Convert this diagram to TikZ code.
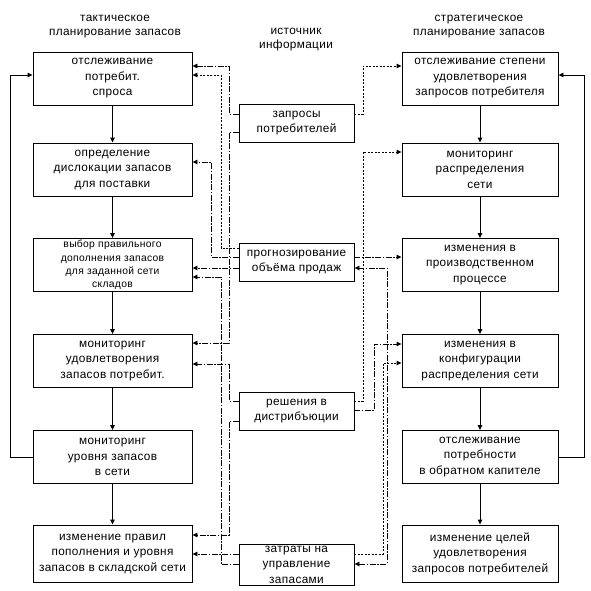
\documentclass[tikz,border=0pt]{standalone}
\usepackage{fontspec}
\setmainfont[LetterSpace=3]{Liberation Sans}
\usetikzlibrary{arrows.meta}
\begin{document}
\begin{tikzpicture}[x=1pt,y=-1pt,
  box/.style={draw, line width=0.9pt, align=center, inner sep=0pt, font=\fontsize{11.8}{15.5}\selectfont},
  lbox/.style={box, minimum width=159pt, minimum height=53pt},
  rbox/.style={box, minimum width=156pt, minimum height=53pt},
  mbox/.style={box, minimum width=115pt, minimum height=38pt},
  ttl/.style={align=center, inner sep=0pt, font=\fontsize{11.8}{14}\selectfont},
  flow/.style={line width=0.9pt, -{Triangle[length=5pt,width=4.5pt]}},
  dashlink/.style={flow, dash pattern=on 6pt off 1.5pt on 1.5pt off 1.5pt},
  dotlink/.style={flow, dash pattern=on 2pt off 1.5pt}]
\useasboundingbox (0,0) rectangle (591,590);
% titles
\node[ttl] (t1) at (115,27) {тактическое\\планирование запасов};
\node[ttl] (t2) at (296,40) {источник\\информации};
\node[ttl] (t3) at (479,27) {стратегическое\\планирование запасов};
% left column
\node[lbox] (l1) at (112.5,78.5) {отслеживание\\потребит.\\спроса};
\node[lbox] (l2) at (112.5,169.5) {определение\\дислокации запасов\\для поставки};
\node[lbox, font=\fontsize{10.3}{13.3}\selectfont] (l3) at (112.5,265) {выбор правильного\\дополнения запасов\\для заданной сети\\складов};
\node[lbox] (l4) at (112.5,361) {мониторинг\\удовлетворения\\запасов потребит.};
\node[lbox] (l5) at (112.5,457) {мониторинг\\уровня запасов\\в сети};
\node[lbox, minimum height=57pt] (l6) at (112.5,553.5) {изменение правил\\пополнения и уровня\\запасов в складской сети};
% right column
\node[rbox] (r1) at (480,78.5) {отслеживание степени\\удовлетворения\\запросов потребителя};
\node[rbox] (r2) at (480,169.5) {мониторинг\\распределения\\сети};
\node[rbox] (r3) at (480,265) {изменения в\\производственном\\процессе};
\node[rbox] (r4) at (480,361) {изменения в\\конфигурации\\распределения сети};
\node[rbox] (r5) at (480,457) {отслеживание\\потребности\\в обратном капителе};
\node[rbox, minimum height=57pt] (r6) at (480,553.5) {изменение целей\\удовлетворения\\запросов потребителей};
% middle
\node[mbox] (m1) at (296.5,123) {запросы\\потребителей};
\node[mbox] (m2) at (296.5,262) {прогнозирование\\объёма продаж};
\node[mbox] (m3) at (296.5,411) {решения в\\дистрибъюции};
\node[mbox, minimum height=41pt] (m4) at (296.5,564.5) {затраты на\\управление\\запасами};
% column flows
\foreach \a/\b in {l1/l2,l2/l3,l3/l4,l4/l5,l5/l6,r1/r2,r2/r3,r3/r4,r4/r5,r5/r6}
  \draw[flow] (\a.south) -- (\b.north);
% feedback loops
\draw[flow] (l5.west) -- (10,457) -- (10,75) -- (l1.west |- 0,75);
\draw[flow] (r5.east) -- (584,457) -- (584,75) -- (r1.east |- 0,75);
% middle to left
\draw[dashlink] (m1.west |- 0,114) -- (229,114) -- (229,66) -- (l1.east |- 0,66);
\draw[dotlink] (m2.west |- 0,248) -- (221,248) -- (221,75) -- (l1.east |- 0,75);
\draw[dashlink] (m2.west |- 0,257) -- (211,257) -- (211,162) -- (l2.east |- 0,162);
\draw[dashlink] (m2.west |- 0,268) -- (l3.east |- 0,268);
\draw[dashlink] (m4.west |- 0,564) -- (221,564) -- (221,277) -- (l3.east |- 0,277);
\draw[dashlink] (m1.west |- 0,132) -- (229,132) -- (229,343) -- (l4.east |- 0,343);
\draw[dashlink] (m3.west |- 0,401) -- (229,401) -- (229,364) -- (l4.east |- 0,364);
\draw[dashlink] (m3.west |- 0,421) -- (229,421) -- (229,535) -- (l6.east |- 0,535);
\draw[dashlink] (m4.west |- 0,554) -- (l6.east |- 0,554);
% middle to right
\draw[dotlink] (m1.east |- 0,114) -- (363,114) -- (363,66) -- (r1.west |- 0,66);
\draw[dashlink] (m2.east |- 0,257) -- (r3.west |- 0,257);
\draw[dotlink] (m3.east |- 0,401) -- (363,401) -- (363,152) -- (r2.west |- 0,152);
\draw[dashlink] (m3.east |- 0,410) -- (374,410) -- (374,344) -- (r4.west |- 0,344);
\draw[dotlink] (m4.east |- 0,554) -- (383,554) -- (383,363) -- (r4.west |- 0,363);
\draw[dashlink, {Triangle[length=5pt,width=4.5pt]}-{Triangle[length=5pt,width=4.5pt]}] (m4.east |- 0,564) -- (387,564) -- (387,268) -- (m2.east |- 0,268);
\end{tikzpicture}
\end{document}
